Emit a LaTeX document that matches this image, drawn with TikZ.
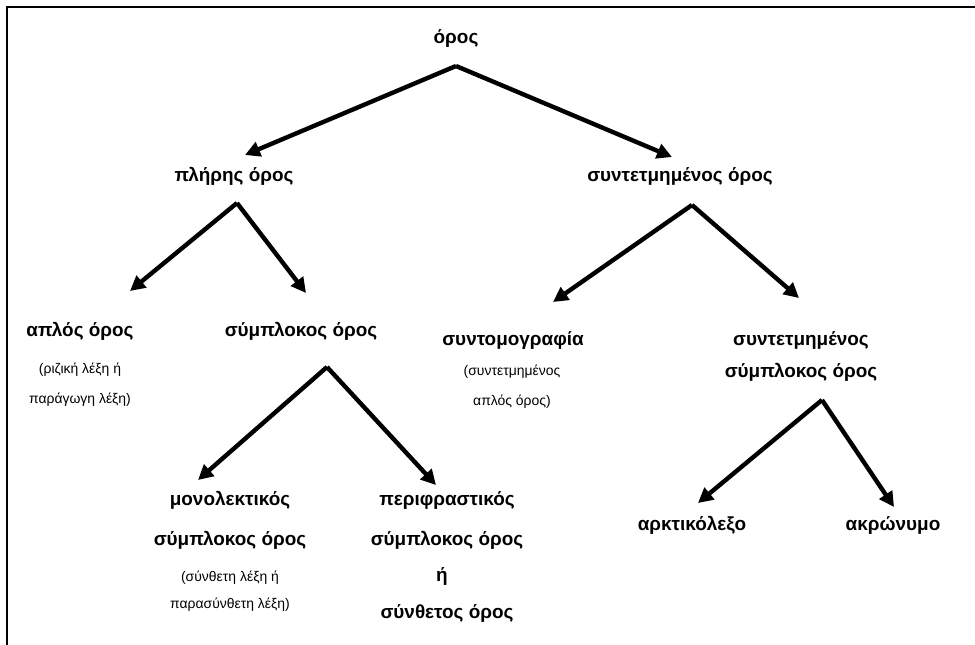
\documentclass[tikz,border=0pt]{standalone}
\usepackage{fontspec}
\setmainfont{Liberation Sans}
\usetikzlibrary{arrows.meta}
\begin{document}
\begin{tikzpicture}[x=1bp,y=-1bp,
  term/.style={font=\fontsize{19}{22}\selectfont\bfseries, inner sep=0pt, anchor=center},
  note/.style={font=\fontsize{14}{16}\selectfont, inner sep=0pt, anchor=center},
  arr/.style={line width=4.4bp, line join=miter, -{Triangle[length=15bp,width=15bp]}},
  frame/.style={line width=1.6bp}]
\useasboundingbox (0,0) rectangle (975,645);
\coordinate (fTL) at (7,7);
\coordinate (fTR) at (975,7);
\coordinate (fBL) at (7,645);
\draw[frame] (fTR) -- (fTL) -- (fBL);

% nodes
\node[term] (oros) at (456,38) {όρος};
\node[term] (pliris) at (234,176) {πλήρης όρος};
\node[term] (syntet) at (680,176) {συντετμημένος όρος};
\node[term] (aplos) at (80,331) {απλός όρος};
\node[note] (aplosA) at (80,370) {(ριζική λέξη ή};
\node[note] (aplosB) at (80,400) {παράγωγη λέξη)};
\node[term] (sympl) at (301,331) {σύμπλοκος όρος};
\node[term] (syntom) at (513,340) {συντομογραφία};
\node[note] (syntomA) at (512,372) {(συντετμημένος};
\node[note] (syntomB) at (512,402) {απλός όρος)};
\node[term] (syntsympA) at (801,340) {συντετμημένος};
\node[term] (syntsympB) at (801,372) {σύμπλοκος όρος};
\node[term] (monoA) at (230,500) {μονολεκτικός};
\node[term] (monoB) at (230,540) {σύμπλοκος όρος};
\node[note] (monoC) at (230,578) {(σύνθετη λέξη ή};
\node[note] (monoD) at (230,605) {παρασύνθετη λέξη)};
\node[term] (periA) at (447,500) {περιφραστικός};
\node[term] (periB) at (447,540) {σύμπλοκος όρος};
\node[term] (periC) at (442,576) {ή};
\node[term] (periD) at (447,613) {σύνθετος όρος};
\node[term] (arkt) at (692,525) {αρκτικόλεξο};
\node[term] (akro) at (893,525) {ακρώνυμο};

% connector points
\coordinate (a1) at (456,66);
\coordinate (t1L) at (245,155);
\coordinate (t1R) at (672,157);
\coordinate (a2) at (237,203);
\coordinate (t2L) at (130,291);
\coordinate (t2R) at (306,293);
\coordinate (a3) at (692,205);
\coordinate (t3L) at (553,302);
\coordinate (t3R) at (799,298);
\coordinate (a4) at (327,367);
\coordinate (t4L) at (198,480);
\coordinate (t4R) at (436,485);
\coordinate (a5) at (822,400);
\coordinate (t5L) at (698,503);
\coordinate (t5R) at (894,507);

\draw[arr] (a1) -- (t1L);
\draw[arr] (a1) -- (t1R);
\draw[arr] (a2) -- (t2L);
\draw[arr] (a2) -- (t2R);
\draw[arr] (a3) -- (t3L);
\draw[arr] (a3) -- (t3R);
\draw[arr] (a4) -- (t4L);
\draw[arr] (a4) -- (t4R);
\draw[arr] (a5) -- (t5L);
\draw[arr] (a5) -- (t5R);
\end{tikzpicture}
\end{document}
